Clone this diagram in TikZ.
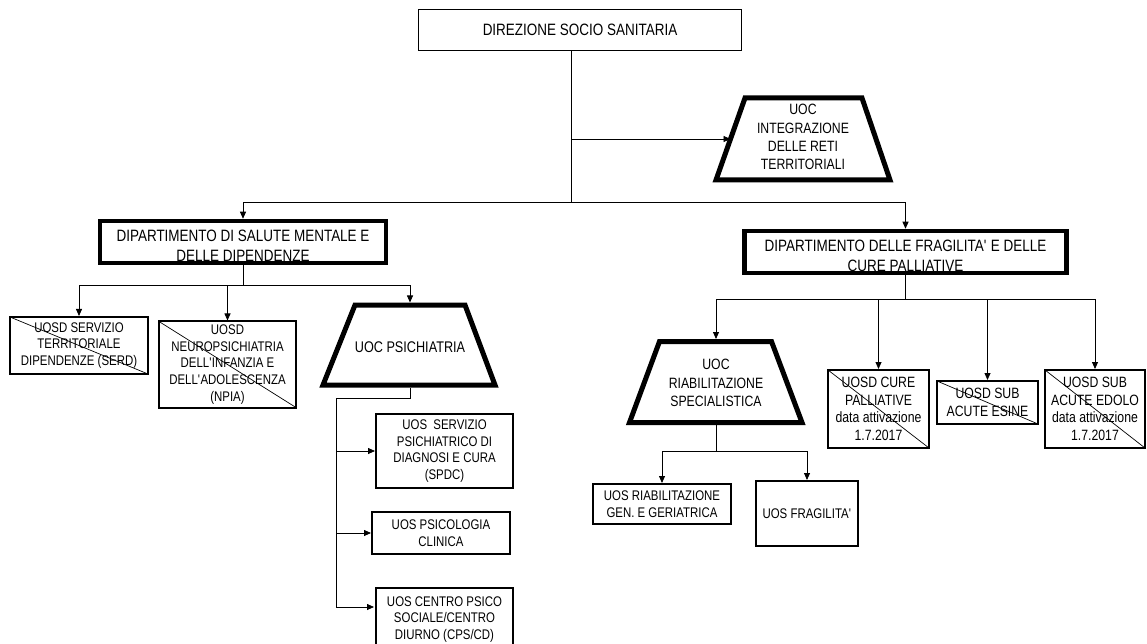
\documentclass[tikz,border=0pt]{standalone}
\usepackage{fontspec}
\setmainfont{Liberation Sans}[FakeStretch=0.82]
\usetikzlibrary{arrows.meta}

\newcommand{\qsing}{\textquotesingle}
% first baseline on the box centre, as the department boxes print it
\newcommand{\deptlines}[1]{\makebox[0pt]{\raisebox{0pt}[0pt][0pt]{\parbox[t]{320bp}{\centering #1}}}}

\begin{document}
\begin{tikzpicture}[
    x=1bp, y=-1bp, % pixel-like units, y pointing down
    >={Triangle[length=7bp,width=6bp]}, % filled arrow tips
    wire/.style={-, line width=0.8bp}, % plain connector
    link/.style={->, line width=0.8bp}, % connector with arrow
    unit/.style={draw, line width=2bp, inner sep=0pt, align=center, font=\fontsize{14}{16.8}\selectfont}, % ordinary unit box
    wideunit/.style={unit, font=\fontsize{15}{17.5}\selectfont}, % right side boxes
    topunit/.style={unit, line width=1bp, font=\fontsize{16.5}{20}\selectfont}, % direction box
    dept/.style={unit, line width=4.5bp, font=\fontsize{16.5}{20}\selectfont}, % department box
    closed/.style={path picture={\draw[line width=0.7bp] (path picture bounding box.north west) -- (path picture bounding box.south east);}}, % crossed out unit
    trap/.style={line width=5bp, line join=miter}, % outline of a UOC trapezoid
    traptext/.style={inner sep=0pt, align=center, font=\fontsize{15}{18.3}\selectfont} % text inside a trapezoid
  ]

  % --- Page ---
  \clip (0,0) rectangle (1147,644);

  % --- Direction and departments ---
  \node[topunit, minimum width=323bp, minimum height=41bp] (dir) at (580,30) {DIREZIONE SOCIO SANITARIA};
  \node[dept, minimum width=286bp, minimum height=42bp] (dsm) at (243,242) {\deptlines{DIPARTIMENTO DI SALUTE MENTALE E\\DELLE DIPENDENZE}};
  \node[dept, minimum width=322bp, minimum height=42bp] (dfcp) at (905.5,252) {\deptlines{DIPARTIMENTO DELLE FRAGILITA\qsing{} E DELLE\\CURE PALLIATIVE}};

  % --- UOC Integrazione (trapezoid) ---
  \draw[trap] (745,98) -- (862,98) -- (890,180) -- (716,180) -- cycle;
  \node[traptext] (integ) at (803,137) {UOC\\INTEGRAZIONE\\DELLE RETI\\TERRITORIALI};
  \coordinate (integ-left) at (730.5,139); % point on the slanted left side

  % --- Salute mentale: units ---
  \node[unit, closed, minimum width=138bp, minimum height=57bp] (serd) at (79,345.5) {UOSD SERVIZIO\\TERRITORIALE\\DIPENDENZE (SERD)};
  \node[unit, closed, minimum width=137bp, minimum height=86bp] (npia) at (227.5,364.5) {UOSD\\NEUROPSICHIATRIA\\DELL\qsing{}INFANZIA E\\DELL\qsing{}ADOLESCENZA\\(NPIA)};

  % UOC Psichiatria (trapezoid)
  \draw[trap] (355,305) -- (465,305) -- (495,385) -- (323,385) -- cycle;
  \node[traptext, font=\fontsize{15.5}{18}\selectfont] (psich) at (410,347) {UOC PSICHIATRIA};
  \coordinate (psich-top) at (410,302.5);
  \coordinate (psich-bot) at (410,387.5);

  \node[unit, minimum width=137bp, minimum height=74bp] (spdc) at (444.5,451) {UOS\ \ SERVIZIO\\PSICHIATRICO DI\\DIAGNOSI E CURA\\(SPDC)};
  \node[unit, minimum width=138bp, minimum height=42bp] (psicol) at (441,533) {UOS PSICOLOGIA\\CLINICA};
  \node[unit, minimum width=137bp, minimum height=63bp] (cps) at (444.5,619.5) {UOS CENTRO PSICO\\SOCIALE/CENTRO\\DIURNO (CPS/CD)};
  \coordinate (cps-in) at (374,607);

  % --- Fragilita': units ---
  % UOC Riabilitazione (trapezoid)
  \draw[trap] (659.5,341.5) -- (771.5,341.5) -- (802,422.5) -- (629.5,422.5) -- cycle;
  \node[traptext] (riab) at (716,383) {UOC\\RIABILITAZIONE\\SPECIALISTICA};
  \coordinate (riab-top) at (716,339);
  \coordinate (riab-bot) at (716,425);

  \node[wideunit, closed, minimum width=101bp, minimum height=78bp] (cure) at (878.5,409) {UOSD CURE\\PALLIATIVE\\data attivazione\\1.7.2017};
  \node[wideunit, closed, minimum width=101bp, minimum height=43bp] (esine) at (987.5,402.5) {UOSD SUB\\ACUTE ESINE};
  \node[wideunit, closed, minimum width=100bp, minimum height=78bp] (edolo) at (1095,409) {UOSD SUB\\ACUTE EDOLO\\data attivazione\\1.7.2017};

  \node[unit, minimum width=138bp, minimum height=40bp] (riabgen) at (662,504) {UOS RIABILITAZIONE\\GEN. E GERIATRICA};
  \node[unit, minimum width=102bp, minimum height=65bp] (frag) at (807,513.5) {UOS FRAGILITA\qsing};

  % --- Connectors from the direction ---
  \coordinate (trunk) at (571,202);
  \draw[wire] (dir.south -| trunk) -- (trunk);
  \draw[link] (integ-left -| trunk) -- (integ-left);
  \draw[link] (trunk) -| (dsm.north);
  \draw[link] (trunk) -| (dfcp.north);

  % --- Connectors of Salute mentale ---
  \coordinate (dsm-bus) at (243,285);
  \draw[wire] (dsm.south) -- (dsm-bus);
  \draw[link] (dsm-bus) -| (serd.north);
  \draw[link] (dsm-bus) -| (npia.north);
  \draw[link] (dsm-bus) -| (psich-top);

  \coordinate (psich-bus) at (336,398);
  \draw[link] (psich-bot) |- (psich-bus) |- (cps-in);
  \draw[link] (psich-bus |- spdc.west) -- (spdc.west);
  \draw[link] (psich-bus |- psicol.west) -- (psicol.west);

  % --- Connectors of Fragilita' ---
  \coordinate (dfcp-bus) at (905.5,299);
  \draw[wire] (dfcp.south) -- (dfcp-bus);
  \draw[link] (dfcp-bus) -| (riab-top);
  \draw[link] (dfcp-bus) -| (cure.north);
  \draw[link] (dfcp-bus) -| (esine.north);
  \draw[link] (dfcp-bus) -| (edolo.north);

  \coordinate (riab-bus) at (716,451);
  \draw[wire] (riab-bot) -- (riab-bus);
  \draw[link] (riab-bus) -| (riabgen.north);
  \draw[link] (riab-bus) -| (frag.north);

\end{tikzpicture}
\end{document}
